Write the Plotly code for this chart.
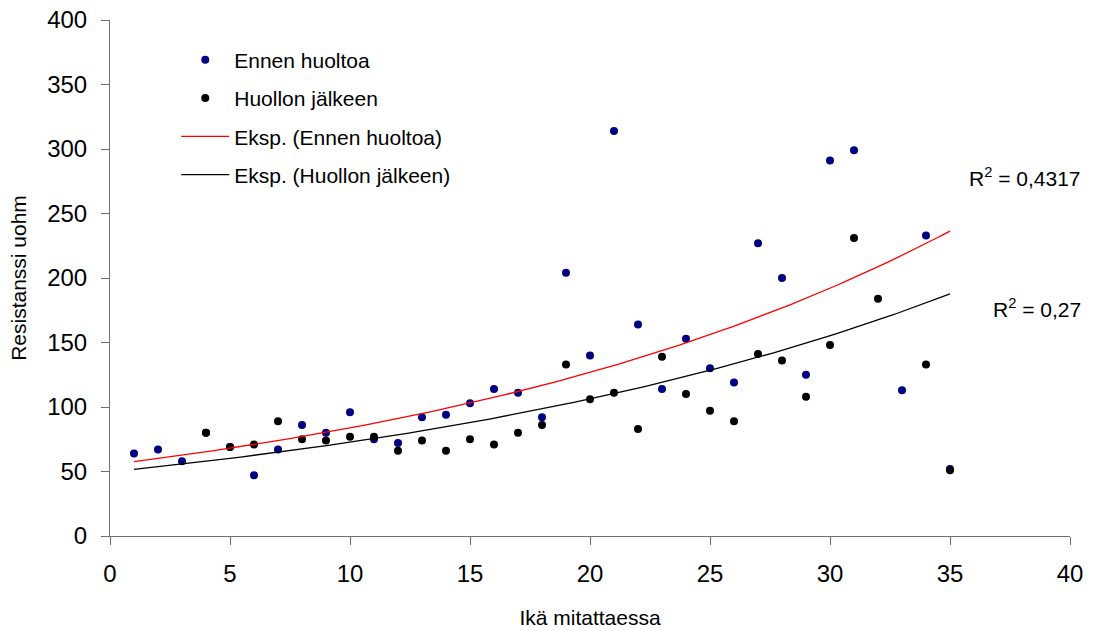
import numpy as np
import plotly.graph_objects as go

# Ennen huoltoa (before maintenance)
x_before = [1, 2, 3, 4, 5, 6, 7, 8, 9, 10, 11, 12, 13, 14, 15, 16, 17, 18, 19, 20,
            21, 22, 23, 24, 25, 26, 27, 28, 29, 30, 31, 33, 34, 35]
y_before = [64, 67, 58, 80, 69, 47, 67, 86, 80, 96, 75, 72, 92, 94, 103, 114, 111, 92, 204, 140,
            314, 164, 114, 153, 130, 119, 227, 200, 125, 291, 299, 113, 233, 52]

# Huollon jälkeen (after maintenance)
x_after = [4, 5, 6, 7, 8, 9, 10, 11, 12, 13, 14, 15, 16, 17, 18, 19, 20,
           21, 22, 23, 24, 25, 26, 27, 28, 29, 30, 31, 32, 34, 35]
y_after = [80, 69, 71, 89, 75, 74, 77, 77, 66, 74, 66, 75, 71, 80, 86, 133, 106,
           111, 83, 139, 110, 97, 89, 141, 136, 108, 148, 231, 184, 133, 51]

# exponential trendlines y = a * exp(b * x), coefficients [a, b]
trend_before = [55.3, 0.0415]
trend_after = [49.8, 0.0379]
trend_range = [1, 35]

x_ticks = [0, 5, 10, 15, 20, 25, 30, 35, 40]
y_ticks = [0, 50, 100, 150, 200, 250, 300, 350, 400]
r2_labels = ["R<sup>2</sup> = 0,4317", "R<sup>2</sup> = 0,27"]

xs = np.linspace(trend_range[0], trend_range[1], 200)
FONT = "Liberation Sans, Arial, sans-serif"

fig = go.Figure()
fig.add_trace(go.Scatter(x=x_before, y=y_before, mode="markers", name="Ennen huoltoa",
                         marker=dict(color="#000080", size=8), legendgroup="a"))
fig.add_trace(go.Scatter(x=x_after, y=y_after, mode="markers", name="Huollon jälkeen",
                         marker=dict(color="#000000", size=8), legendgroup="b"))
fig.add_trace(go.Scatter(x=xs, y=trend_before[0] * np.exp(trend_before[1] * xs), mode="lines",
                         name="Eksp. (Ennen huoltoa)",
                         line=dict(color="#ff0000", width=1.3), legendgroup="c"))
fig.add_trace(go.Scatter(x=xs, y=trend_after[0] * np.exp(trend_after[1] * xs), mode="lines",
                         name="Eksp. (Huollon jälkeen)",
                         line=dict(color="#000000", width=1.3), legendgroup="d"))

axis_common = dict(showgrid=False, zeroline=False, showline=True, linecolor="#707070", linewidth=1,
                   ticks="outside", ticklen=8, tickcolor="#707070", automargin=False,
                   tickfont=dict(family=FONT, size=24, color="#000"))

fig.update_xaxes(range=[0, 40], tickvals=x_ticks, ticktext=[str(v) for v in x_ticks],
                 ticklabelstandoff=8,
                 title=dict(text="Ikä mitattaessa", font=dict(family=FONT, size=21, color="#000"), standoff=24),
                 **axis_common)
fig.update_yaxes(range=[0, 400], tickvals=y_ticks, ticktext=[str(v) for v in y_ticks],
                 ticklabelstandoff=9,
                 title=dict(text="Resistanssi uohm", font=dict(family=FONT, size=21, color="#000"), standoff=14),
                 **axis_common)

fig.add_annotation(x=1.014, xref="paper", y=278, yref="y", text=r2_labels[0], showarrow=False,
                   xanchor="right", font=dict(family=FONT, size=21, color="#000"))
fig.add_annotation(x=1.014, xref="paper", y=177, yref="y", text=r2_labels[1], showarrow=False,
                   xanchor="right", font=dict(family=FONT, size=21, color="#000"))

fig.update_layout(
    width=1094, height=631,
    margin=dict(l=110, r=24, t=20, b=95),
    paper_bgcolor="white", plot_bgcolor="white",
    showlegend=True,
    legend=dict(x=0.069, y=0.962, xanchor="left", yanchor="top", bgcolor="rgba(0,0,0,0)",
                font=dict(family=FONT, size=21, color="#000"), tracegroupgap=8, itemwidth=48),
)

fig.write_html("out.html")
